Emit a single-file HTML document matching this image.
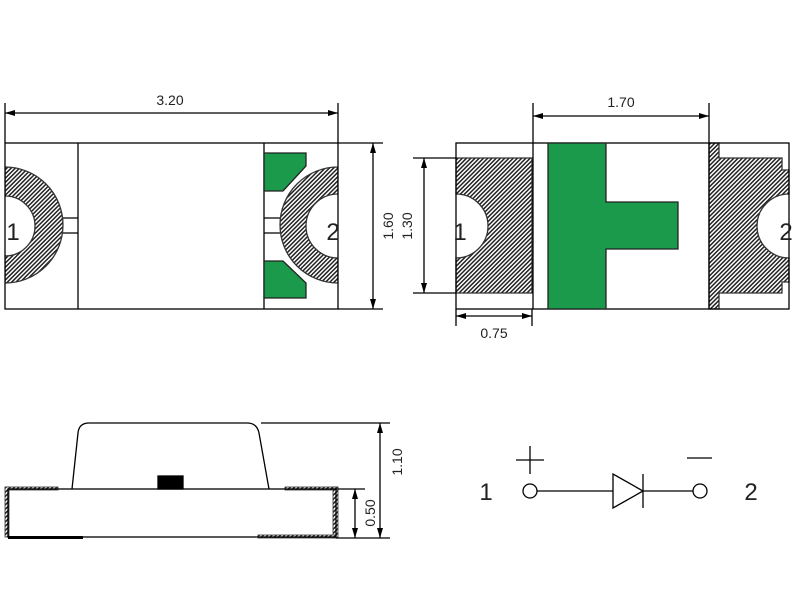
<!DOCTYPE html>
<html><head><style>body{margin:0;background:#fff}svg{display:block}text{font-family:"Liberation Sans",sans-serif;fill:#222}</style></head><body>
<svg width="800" height="600" viewBox="0 0 800 600" xmlns="http://www.w3.org/2000/svg">
<defs>
<pattern id="h" width="3" height="3" patternUnits="userSpaceOnUse" patternTransform="rotate(45)">
<rect width="3" height="3" fill="#fff"/><rect width="1.5" height="3" fill="#222"/></pattern>
<marker id="a" viewBox="0 0 10 6" refX="10" refY="3" markerWidth="10" markerHeight="6" orient="auto-start-reverse" markerUnits="userSpaceOnUse"><path d="M0,0L10,3L0,6z" fill="#000"/></marker>
<clipPath id="cl"><rect x="5" y="143" width="333" height="166"/></clipPath>
</defs>
<g stroke="#000" stroke-width="1.3" fill="none">
<g clip-path="url(#cl)">
<path d="M5,167 A58,58 0 0 1 5,283 L5,256 A30,30 0 0 0 5,196 Z" fill="url(#h)" stroke="#333"/>
<path d="M338,167 A58,58 0 0 0 338,283 L338,258 A32,32 0 0 1 338,194 Z" fill="url(#h)" stroke="#333"/>
</g>
<rect x="5" y="143" width="333" height="166"/>
<line x1="78" y1="143" x2="78" y2="309"/><line x1="264" y1="143" x2="264" y2="309"/>
<path d="M63,218H78M63,233H78M264,218H280M264,233H280"/>
<path d="M264,153H306V166L283,191H264Z" fill="#1a9a4a" stroke="#222"/>
<path d="M264,298H306V283L283,261H264Z" fill="#1a9a4a" stroke="#222"/>
<path d="M5,143V103M338,143V103"/>
<line x1="5" y1="113" x2="338" y2="113" marker-start="url(#a)" marker-end="url(#a)"/>
<path d="M338,143H383M338,309H383"/>
<line x1="373" y1="143" x2="373" y2="309" marker-start="url(#a)" marker-end="url(#a)"/>
<path d="M456,158H532V293H456V258A32,32 0 0 0 456,194Z" fill="url(#h)" stroke="#333"/>
<path d="M709,143H719V158H782V170H789V194A32,32 0 0 0 789,258V282H782V293H719V309H709Z" fill="url(#h)" stroke="#333"/>
<rect x="456" y="143" width="333" height="166"/>
<line x1="533" y1="143" x2="533" y2="309"/><line x1="709" y1="143" x2="709" y2="309"/>
<path d="M548,143H606V202H678V249H606V309H548Z" fill="#1a9a4a" stroke="#222"/>
<path d="M533,143V103M709,143V103"/>
<line x1="533" y1="116" x2="709" y2="116" marker-start="url(#a)" marker-end="url(#a)"/>
<path d="M413,158H456M413,293H456"/>
<line x1="424" y1="158" x2="424" y2="293" marker-start="url(#a)" marker-end="url(#a)"/>
<path d="M456,309V326M532,309V326"/>
<line x1="456" y1="316" x2="532" y2="316" marker-start="url(#a)" marker-end="url(#a)"/>
<rect x="5" y="487" width="53" height="3" fill="url(#h)" stroke="#333" stroke-width="0.8"/>
<rect x="5" y="487" width="4" height="50" fill="url(#h)" stroke="#333" stroke-width="0.8"/>
<rect x="285" y="487" width="53" height="3" fill="url(#h)" stroke="#333" stroke-width="0.8"/>
<rect x="333" y="487" width="5" height="51" fill="url(#h)" stroke="#333" stroke-width="0.8"/>
<rect x="258" y="535" width="78" height="3" fill="url(#h)" stroke="#333" stroke-width="0.8"/>
<rect x="8" y="489" width="328" height="48"/>
<path d="M72,489L78,433Q79,423 89,423H247Q257,423 259,433L269,489"/>
<rect x="158" y="476" width="25" height="13" fill="#000"/>
<rect x="8" y="536" width="75" height="3" fill="#000" stroke="none"/>
<path d="M261,423H390M336,538H390M336,489H365"/>
<line x1="380" y1="423" x2="380" y2="538" marker-start="url(#a)" marker-end="url(#a)"/>
<line x1="355" y1="489" x2="355" y2="538" marker-start="url(#a)" marker-end="url(#a)"/>
<circle cx="530" cy="491" r="7"/><circle cx="700" cy="491" r="7"/>
<path d="M537,491H613M643,491H693M613,474L613,508L643,491Z M643,474V508 M516,460H544M530,446V474M687,458H712"/>
</g>
<g font-size="14">
<text x="170" y="105" text-anchor="middle">3.20</text>
<text x="621" y="107" text-anchor="middle">1.70</text>
<text x="494" y="338" text-anchor="middle">0.75</text>
<text transform="translate(393,226) rotate(-90)" text-anchor="middle">1.60</text>
<text transform="translate(412,226) rotate(-90)" text-anchor="middle">1.30</text>
<text transform="translate(375,513) rotate(-90)" text-anchor="middle">0.50</text>
<text transform="translate(402,462) rotate(-90)" text-anchor="middle">1.10</text>
</g>
<g font-size="24" font-weight="300">
<text x="13" y="240" text-anchor="middle">1</text>
<text x="333" y="240" text-anchor="middle">2</text>
<text x="460" y="240" text-anchor="middle">1</text>
<text x="786" y="240" text-anchor="middle">2</text>
<text x="486" y="500" text-anchor="middle">1</text>
<text x="751" y="500" text-anchor="middle">2</text>
</g>
</svg>
</body></html>
